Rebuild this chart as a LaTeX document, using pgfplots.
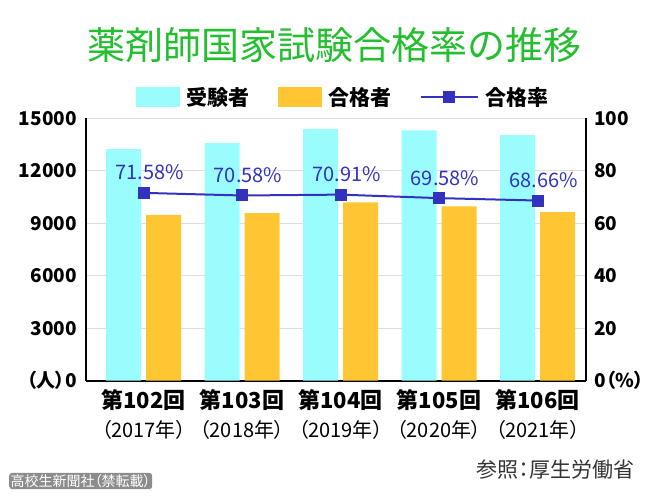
\documentclass[border=0pt]{standalone}
\usepackage{pgfplots}
\pgfplotsset{compat=1.18}
\usepackage{fontspec}
\setmainfont{Noto Sans CJK JP}[RawFeature={+palt}]
\newfontfamily\titlefont{Noto Sans CJK JP}

\definecolor{examcyan}{RGB}{153,253,253}
\definecolor{passorange}{RGB}{255,198,51}
\definecolor{rateblue}{RGB}{50,50,190}
\definecolor{titlegreen}{RGB}{36,190,48}

% 受験者 / 合格者 (人), 合格率 (%)
\pgfplotstableread{
x exam pass rate
0 13243 9479 71.58
1 13579 9584 70.58
2 14376 10194 70.91
3 14311 9958 69.58
4 14031 9634 68.66
}\shiken

\newcommand{\kai}[2]{{\bfseries\fontsize{22}{26}\selectfont #1}\\[8pt]{\fontsize{20}{26}\selectfont #2}}

\begin{document}
\begin{tikzpicture}
\useasboundingbox (0pt,0pt) rectangle (660pt,495pt);

\node[font=\titlefont\fontsize{38}{40}\selectfont, text=titlegreen] at (334.5pt,450pt) {薬剤師国家試験合格率の推移};

\begin{axis}[
	at={(86pt,114.3pt)}, anchor=south west,
	scale only axis, width=500pt, height=262.4pt,
	xmin=-0.584, xmax=4.492,
	ymin=0, ymax=15000,
	scaled y ticks=false,
	axis x line*=bottom, axis y line*=left,
	axis line style={line width=1.6pt},
	major tick length=0pt,
	xtick={0,1,2,3,4},
	xticklabels={
		{\kai{第102回}{（2017年）}},
		{\kai{第103回}{（2018年）}},
		{\kai{第104回}{（2019年）}},
		{\kai{第105回}{（2020年）}},
		{\kai{第106回}{（2021年）}}},
	xticklabel style={anchor=north, inner sep=0pt, yshift=-9pt, align=center},
	ytick={0,3000,...,15000},
	yticklabels={（人）0,3000,6000,9000,12000,15000},
	yticklabel style={inner sep=0pt, xshift=-9pt, font=\bfseries\fontsize{19}{22}\selectfont},
	ymajorgrids, grid style={black!13, line width=0.8pt},
	legend style={at={(rel axis cs:0.5126,1.081)}, anchor=center,
		draw=none, fill=none, inner sep=0pt,
		font=\bfseries\fontsize{21}{24}\selectfont,
		legend columns=3,
		/tikz/every odd column/.style={column sep=7pt},
		/tikz/every even column/.style={column sep=28pt},
		nodes={inner sep=0pt}},
	legend cell align=left,
]
\addplot[ybar, bar width=35pt, bar shift=-20pt, fill=examcyan, draw=none,
	legend image code/.code={\fill[examcyan] (0pt,-10pt) rectangle (44pt,10pt);}]
	table[x=x, y=exam] {\shiken};
\addlegendentry{受験者}
\addplot[ybar, bar width=35pt, bar shift=20pt, fill=passorange, draw=none,
	legend image code/.code={\fill[passorange] (0pt,-10pt) rectangle (44pt,10pt);}]
	table[x=x, y=pass] {\shiken};
\addlegendentry{合格者}
\addlegendimage{rateblue, line width=2pt,
	legend image code/.code={
		\draw[rateblue, line width=2pt] (0pt,0pt) -- (57pt,0pt);
		\draw[rateblue, mark=square*, mark size=5pt, mark options={solid}] plot coordinates {(28.5pt,0pt)};}}
\addlegendentry{合格率}
\end{axis}

\begin{axis}[
	at={(86pt,114.3pt)}, anchor=south west,
	scale only axis, width=500pt, height=262.4pt,
	xmin=-0.584, xmax=4.492,
	ymin=0, ymax=100,
	axis x line=none, axis y line*=right,
	axis line style={line width=1.6pt},
	major tick length=0pt,
	ytick={0,20,...,100},
	yticklabels={0（\%）,20,40,60,80,100},
	yticklabel style={inner sep=0pt, xshift=8pt, font=\bfseries\fontsize{19}{22}\selectfont},
]
\addplot[rateblue, line width=2pt, mark=square*, mark size=5pt,
	nodes near coords, point meta=explicit symbolic,
	every node near coord/.append style={font=\fontsize{20}{22}\selectfont,
		text=rateblue, anchor=base, inner sep=0pt, xshift=6pt, yshift=13pt}]
	coordinates {
	(0,71.58) [71.58\%]
	(1,70.58) [70.58\%]
	(2,70.91) [70.91\%]
	(3,69.58) [69.58\%]
	(4,68.66) [68.66\%]
};
\end{axis}

\node[font=\fontsize{21}{24}\selectfont, text=black!80, anchor=east] at (638pt,25pt) {参照：厚生労働省};
\node[font=\fontsize{14}{16}\selectfont, text=white, fill=black!45, rounded corners=3pt,
	inner sep=1.5pt, anchor=west] at (9pt,14pt) {高校生新聞社（禁転載）};
\end{tikzpicture}
\end{document}
